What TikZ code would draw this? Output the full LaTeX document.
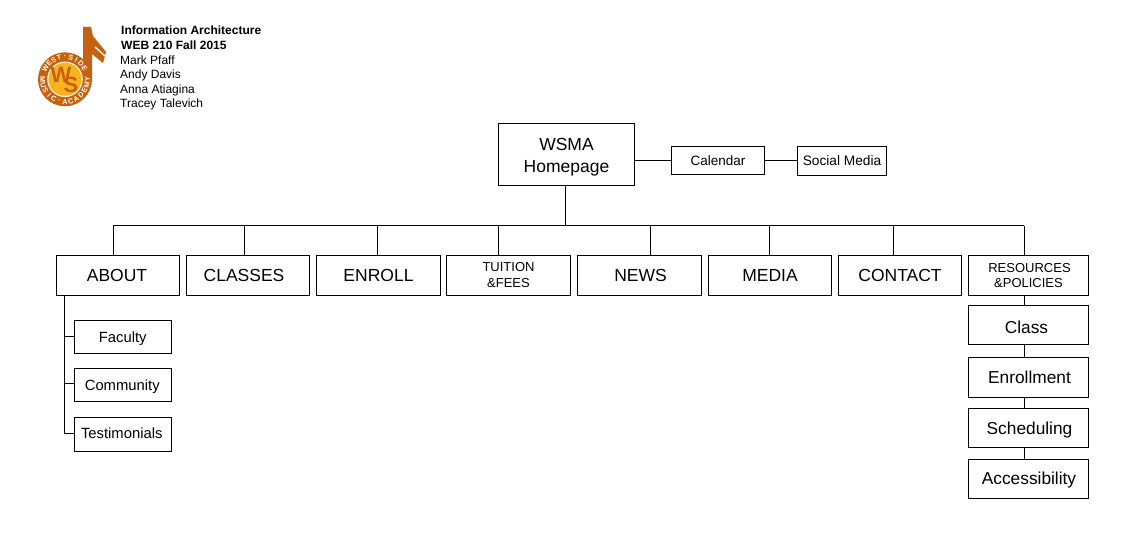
\documentclass[tikz,border=0pt]{standalone}
\usepackage{fontspec}
\setmainfont{Liberation Sans}
\definecolor{notebrown}{RGB}{196,98,16}
\definecolor{discyellow}{RGB}{250,178,30}
\tikzset{
    topbox/.style={draw, line width=1pt, inner sep=0pt, minimum width=123.5pt, minimum height=40pt, align=center, font=\fontsize{17.5}{20}\selectfont},
    subbox/.style={draw, line width=1pt, inner sep=0pt, minimum width=97.5pt, minimum height=33.5pt, text depth=3pt, font=\fontsize{14.8}{17}\selectfont},
    resbox/.style={draw, line width=1pt, inner sep=0pt, minimum width=120.5pt, minimum height=39pt, text depth=4pt, font=\fontsize{17.3}{20}\selectfont},
    link/.style={line width=1pt},
    credit/.style={anchor=base west, inner sep=0pt, font=\fontsize{12}{14}\selectfont},
    creditbold/.style={credit, font=\fontsize{12}{14}\bfseries},
    ringletter/.style={inner sep=0pt, white, font=\fontsize{7.2}{8}\bfseries},
    wsletter/.style={notebrown, inner sep=0pt, font=\fontsize{22}{24}\bfseries}
}
\begin{document}
\begin{tikzpicture}[x=1pt, y=-1pt]
    \useasboundingbox (0,0) rectangle (1133,545);
    % logo
    \fill[notebrown] (83,27) -- (91,27) -- (93,36) -- (106,52) -- (103,63) -- (92,54) -- (92,82) -- (83,82) -- cycle;
    \draw[white, line width=1.3pt] (95,47) -- (105,56);
    \fill[notebrown] (65,79.3) circle (27);
    \fill[white!80!discyellow] (65,79.3) circle (17.8);
    \fill[discyellow] (65,79.3) circle (16.5);
    \foreach \ch [count=\i] in {W,E,S,T,·,S,I,D,E}
        \node[ringletter, rotate={75-15*\i}] (west\i) at ({65+22.5*cos(165-15*\i)},{79.3-22.5*sin(165-15*\i)}) {\ch};
    \foreach \ch [count=\i] in {M,U,S,I,C,·,A,C,A,D,E,M,Y}
        \node[ringletter, rotate={-105+15*\i}] (music\i) at ({65+22.5*cos(165+15*\i)},{79.3-22.5*sin(165+15*\i)}) {\ch};
    \node[wsletter] (wsw) at (61,75) {W};
    \node[wsletter] (wss) at (71,85) {S};
    % credits
    \node[creditbold] (course) at (121,35) {Information Architecture};
    \node[creditbold] (term) at (121,49.5) {WEB 210 Fall 2015};
    \node[credit] (mark) at (120,64.5) {Mark Pfaff};
    \node[credit] (andy) at (120,79) {Andy Davis};
    \node[credit] (anna) at (120,93.5) {Anna Atiagina};
    \node[credit] (tracey) at (120,108) {Tracey Talevich};
    % homepage row
    \node[draw, line width=1pt, inner sep=0pt, minimum width=136.5pt, minimum height=62.5pt, align=center, font=\fontsize{17.5}{22}\selectfont] (home) at (566.5,154.5) {\rule{0pt}{18pt}WSMA\\Homepage};
    \node[draw, line width=1pt, inner sep=0pt, minimum width=93.5pt, minimum height=28.5pt, font=\fontsize{13.5}{15}\selectfont] (calendar) at (718,160.5) {Calendar};
    \node[draw, line width=1pt, inner sep=0pt, minimum width=89.5pt, minimum height=29.5pt, font=\fontsize{13.7}{15}\selectfont] (social) at (842,161) {Social Media};
    \draw[link] (home.east |- calendar.west) -- (calendar.west);
    \draw[link] (calendar.east) -- (calendar.east -| social.west);
    % main row
    \node[topbox] (about) at (118,275.5) {\hspace*{-2pt}ABOUT};
    \node[topbox] (classes) at (248,275.5) {\hspace*{-8pt}CLASSES};
    \node[topbox, minimum width=124.5pt] (enroll) at (378.5,275.5) {ENROLL};
    \node[topbox, minimum width=124.5pt, font=\fontsize{13}{16}\selectfont] (tuition) at (508.5,275.5) {TUITION\\\&FEES};
    \node[topbox, minimum width=124.5pt] (news) at (639.5,275.5) {\hspace*{2pt}NEWS};
    \node[topbox] (media) at (770,275.5) {MEDIA};
    \node[topbox] (contact) at (900,275.5) {CONTACT};
    \node[topbox, minimum width=120.5pt, font=\fontsize{13}{14.5}\selectfont] (resources) at (1028.5,275.5) {\hspace*{2pt}RESOURCES\\\&POLICIES};
    % bus
    \coordinate (busleft) at (113,226);
    \coordinate (busright) at (1024,226);
    \coordinate (bustop) at (565,226);
    \draw[link] (busleft) -- (busright);
    \draw[link] (bustop) -- (bustop |- home.south);
    \foreach \name/\xpos in {about/113, classes/244, enroll/377, tuition/498, news/650, media/769, contact/893, resources/1024}
        \draw[link] (\xpos,226) -- (\xpos,226 |- \name.north);
    % about children
    \node[subbox, text height=15pt] (faculty) at (122.75,337) {Faculty};
    \node[subbox, text height=13pt] (community) at (122.75,385) {\hspace*{-1pt}Community};
    \node[subbox, text height=11pt, minimum height=34.5pt] (testimonials) at (122.75,434.5) {\hspace*{-2pt}Testimonials};
    \coordinate (aboutdrop) at (64.5,296);
    \coordinate (facultybranch) at (64.5,337);
    \coordinate (communitybranch) at (64.5,383.5);
    \coordinate (testimonialsbranch) at (64.5,433);
    \draw[link] (aboutdrop) -- (testimonialsbranch) -- (testimonialsbranch -| testimonials.west);
    \draw[link] (facultybranch) -- (facultybranch -| faculty.west);
    \draw[link] (communitybranch) -- (communitybranch -| community.west);
    % resources children
    \node[resbox, text height=21pt] (class) at (1028.5,325.5) {\hspace*{-4pt}Class};
    \node[resbox, text height=17pt] (enrollment) at (1028.5,377.5) {\hspace*{2pt}Enrollment};
    \node[resbox, text height=17pt] (scheduling) at (1028.5,427.5) {\hspace*{2pt}Scheduling};
    \node[resbox, text height=15pt] (accessibility) at (1028.5,478.5) {\hspace*{1pt}Accessibility};
    \coordinate (resdrop) at (1024,300);
    \foreach \upper/\lower in {resources/class, class/enrollment, enrollment/scheduling, scheduling/accessibility}
        \draw[link] (resdrop |- \upper.south) -- (resdrop |- \lower.north);
\end{tikzpicture}
\end{document}
